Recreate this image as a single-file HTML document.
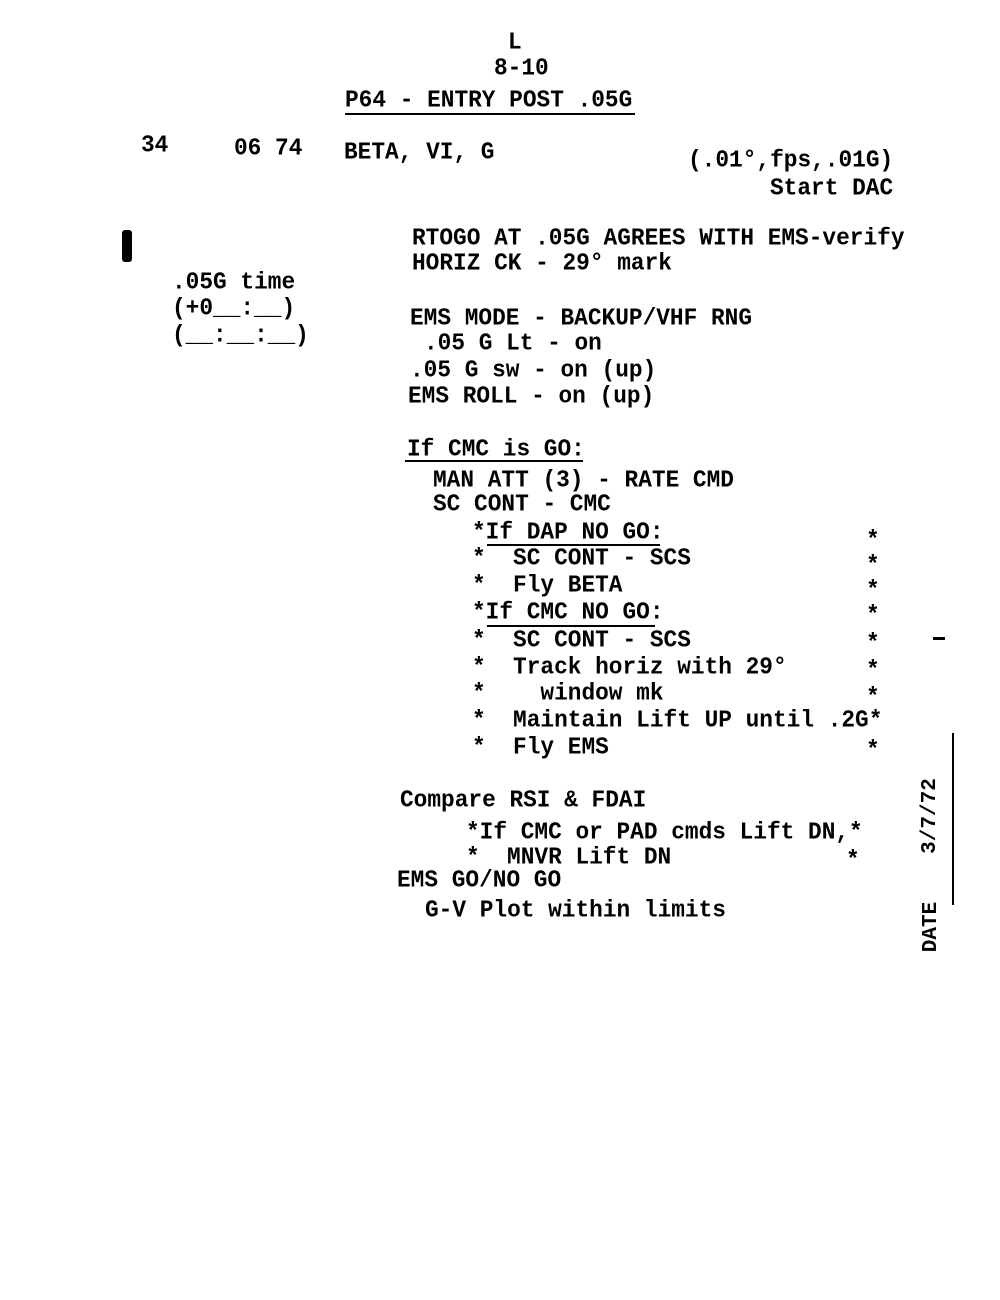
<!DOCTYPE html>
<html><head><meta charset="utf-8"><style>
html,body{margin:0;padding:0;background:#fff;}
body{width:1000px;height:1300px;position:relative;overflow:hidden;font-family:"Liberation Mono",monospace;font-weight:bold;font-size:22.8px;color:#000;}
.t{position:absolute;white-space:pre;line-height:26px;transform:scaleY(1.05);}
.l{position:absolute;background:#000;}
</style></head><body>
<div class="t" style="left:508px;top:29px">L</div>
<div class="t" style="left:494px;top:55px">8-10</div>
<div class="t" style="left:345px;top:87px">P64 - ENTRY POST .05G</div>
<div class="l" style="left:345px;top:113px;width:290px;height:2px"></div>
<div class="t" style="left:141px;top:132px">34</div>
<div class="t" style="left:234px;top:135px">06 74</div>
<div class="t" style="left:344px;top:139px">BETA, VI, G</div>
<div class="t" style="left:688px;top:147px">(.01°,fps,.01G)</div>
<div class="t" style="left:770px;top:175px">Start DAC</div>
<div class="l" style="left:122px;top:230px;width:10px;height:32px;border-radius:3px"></div>
<div class="t" style="left:412px;top:225px">RTOGO AT .05G AGREES WITH EMS-verify</div>
<div class="t" style="left:412px;top:250px">HORIZ CK - 29° mark</div>
<div class="t" style="left:172px;top:269px">.05G time</div>
<div class="t" style="left:172px;top:295px">(+0__:__)</div>
<div class="t" style="left:172px;top:322px">(__:__:__)</div>
<div class="t" style="left:410px;top:305px">EMS MODE - BACKUP/VHF RNG</div>
<div class="t" style="left:424px;top:330px">.05 G Lt - on</div>
<div class="t" style="left:410px;top:357px">.05 G sw - on (up)</div>
<div class="t" style="left:408px;top:383px">EMS ROLL - on (up)</div>
<div class="t" style="left:407px;top:436px">If CMC is GO:</div>
<div class="l" style="left:405px;top:460px;width:178px;height:2px"></div>
<div class="t" style="left:433px;top:467px">MAN ATT (3) - RATE CMD</div>
<div class="t" style="left:433px;top:491px">SC CONT - CMC</div>
<div class="t" style="left:472px;top:519px">*If DAP NO GO:</div>
<div class="l" style="left:487px;top:544px;width:173px;height:2px"></div>
<div class="t" style="left:472px;top:545px">*  SC CONT - SCS</div>
<div class="t" style="left:472px;top:572px">*  Fly BETA</div>
<div class="t" style="left:472px;top:599px">*If CMC NO GO:</div>
<div class="l" style="left:487px;top:625px;width:168px;height:2px"></div>
<div class="t" style="left:472px;top:627px">*  SC CONT - SCS</div>
<div class="t" style="left:472px;top:654px">*  Track horiz with 29°</div>
<div class="t" style="left:472px;top:680px">*    window mk</div>
<div class="t" style="left:472px;top:707px">*  Maintain Lift UP until .2G*</div>
<div class="t" style="left:472px;top:734px">*  Fly EMS</div>
<div class="t" style="left:866px;top:527px">*</div>
<div class="t" style="left:866px;top:552px">*</div>
<div class="t" style="left:866px;top:577px">*</div>
<div class="t" style="left:866px;top:602px">*</div>
<div class="t" style="left:866px;top:630px">*</div>
<div class="t" style="left:866px;top:657px">*</div>
<div class="t" style="left:866px;top:684px">*</div>
<div class="t" style="left:866px;top:737px">*</div>
<div class="l" style="left:933px;top:637px;width:12px;height:3px"></div>
<div class="t" style="left:400px;top:787px">Compare RSI &amp; FDAI</div>
<div class="t" style="left:466px;top:819px">*If CMC or PAD cmds Lift DN,*</div>
<div class="t" style="left:466px;top:844px">*  MNVR Lift DN</div>
<div class="t" style="left:846px;top:847px">*</div>
<div class="t" style="left:397px;top:867px">EMS GO/NO GO</div>
<div class="t" style="left:425px;top:897px">G-V Plot within limits</div>
<div class="l" style="left:952px;top:733px;width:2px;height:172px"></div>
<div class="t" style="left:907px;top:914px;transform:rotate(-90deg);font-size:21px">DATE</div>
<div class="t" style="left:893px;top:803px;transform:rotate(-90deg);font-size:21px">3/7/72</div>
</body></html>
